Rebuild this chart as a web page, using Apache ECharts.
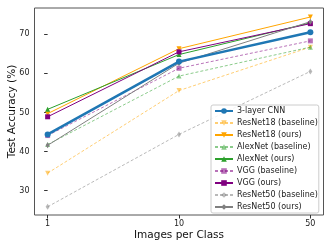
<!DOCTYPE html>
<html><head><meta charset="utf-8">
<script src="https://cdn.jsdelivr.net/npm/echarts@6/dist/echarts.min.js"></script>
<style>html,body{margin:0;padding:0;background:#fff}#c{width:332px;height:249px}</style>
</head><body><div id="c"></div>
<script>
const categories = ['1', '10', '50'];
const yTicks = [30, 40, 50, 60, 70];
const cnn = [44.4, 63.0, 70.5];
const resnet18Base = [34.5, 55.6, 66.7];
const resnet18Ours = [49.7, 66.3, 74.4];
const alexBase = [41.8, 59.3, 66.7];
const alexOurs = [50.8, 64.8, 72.9];
const vggBase = [44.1, 61.3, 68.3];
const vggOurs = [48.9, 65.5, 72.7];
const resnet50Base = [25.9, 44.4, 60.5];
const resnet50Ours = [41.6, 62.6, 73.2];

function pts(arr){ return arr.map((v,i)=>[i, v]); }
function mk(name, data, color, symbol, dashed, opts){
  opts = opts || {};
  return {
    name, type:'line', data: pts(data),
    symbol, symbolSize: opts.size || 5, symbolRotate: opts.rot || 0,
    lineStyle:{color, width: opts.width || 1, type: dashed ? [3,2] : 'solid', opacity: dashed?0.55:1},
    itemStyle:{color, opacity: dashed?0.55:1},
    z: opts.z || 2, animation:false
  };
}
const series = [
  mk('3-layer CNN', cnn, '#1f77b4', 'circle', false, {width:2.5, size:6, z:5}),
  mk('ResNet18 (baseline)', resnet18Base, '#ffa500', 'triangle', true, {rot:180}),
  mk('ResNet18 (ours)', resnet18Ours, '#ffa500', 'triangle', false, {rot:180}),
  mk('AlexNet (baseline)', alexBase, '#2ca02c', 'triangle', true),
  mk('AlexNet (ours)', alexOurs, '#2ca02c', 'triangle', false),
  mk('VGG (baseline)', vggBase, '#800080', 'rect', true),
  mk('VGG (ours)', vggOurs, '#800080', 'rect', false),
  mk('ResNet50 (baseline)', resnet50Base, '#808080', 'diamond', true, {size:[4,6]}),
  mk('ResNet50 (ours)', resnet50Ours, '#808080', 'diamond', false, {size:[4,6]})
];
const chart = echarts.init(document.getElementById('c'), null, {renderer:'canvas'});
chart.setOption({
  animation:false,
  textStyle:{fontFamily:'DejaVu Sans'},
  grid:{left:34.5, right:8.5, top:8, bottom:34, show:true, borderColor:'#555', borderWidth:1, containLabel:false, outerBoundsMode:'none'},
  xAxis:{type:'value', min:-0.1, max:2.1,
    name:'Images per Class', nameLocation:'middle', nameGap:15, nameMoveOverlap:false,
    nameTextStyle:{fontSize:10.5, color:'#111', fontFamily:'DejaVu Sans'},
    axisLine:{show:false}, splitLine:{show:false},
    axisTick:{show:true, length:3.5, lineStyle:{color:'#333'}, customValues:[0,1,2]},
    axisLabel:{fontSize:8, color:'#222', margin:5, customValues:[0,1,2], formatter:v=>categories[Math.round(v)]}
  },
  yAxis:{type:'value', min:23.8, max:76.7,
    name:'Test Accuracy (%)', nameLocation:'middle', nameGap:17, nameRotate:90, nameMoveOverlap:false,
    nameTextStyle:{fontSize:10.5, color:'#111', fontFamily:'DejaVu Sans'},
    axisLine:{show:false}, splitLine:{show:false},
    axisTick:{show:true, length:3.5, lineStyle:{color:'#333'}, customValues:yTicks},
    axisLabel:{fontSize:8, color:'#222', margin:5, customValues:yTicks}
  },
  legend:{orient:'vertical', left:211, top:105, itemWidth:18, itemHeight:7, itemGap:4,
    padding:[2,1,2,3], backgroundColor:'rgba(255,255,255,0.85)', borderColor:'#ccc', borderWidth:1, borderRadius:2,
    textStyle:{fontSize:8, color:'#222', padding:[0,0,0,-1]}, symbolRotate:'inherit',
    data: series.map(s=>s.name)},
  series
});
</script></body></html>
